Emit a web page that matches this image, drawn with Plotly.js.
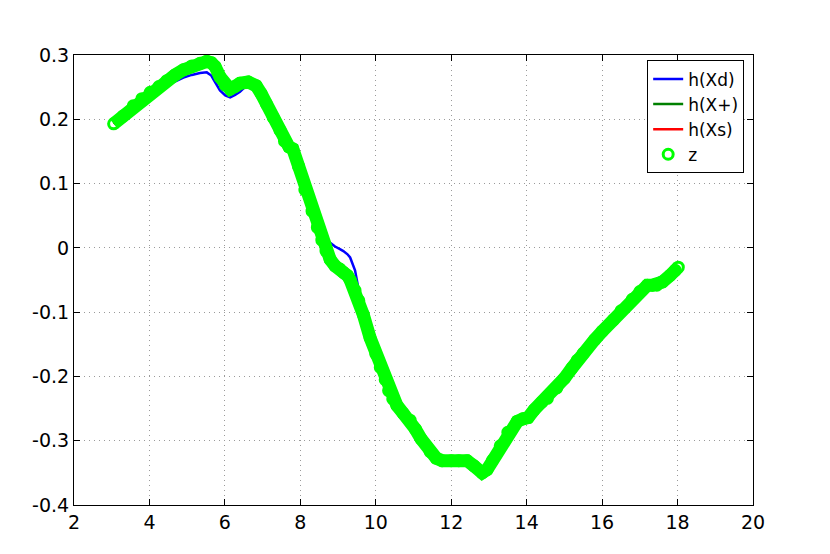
<!DOCTYPE html>
<html>
<head>
<meta charset="utf-8">
<script src="https://cdn.plot.ly/plotly-3.0.1.min.js"></script>
<style>
  html, body { margin: 0; padding: 0; background: #ffffff; }
  #plot { width: 830px; height: 554px; }
</style>
</head>
<body>
<div id="plot"></div>
<script>
// Sample positions along the track
const xs = [3.05, 3.3, 3.57, 3.8, 4.02, 4.25, 4.46, 4.68, 4.9, 5.12, 5.34, 5.52, 5.64, 5.74, 5.87,
  6.01, 6.14, 6.27, 6.40, 6.62, 6.83, 6.96, 7.10, 7.28, 7.46, 7.58, 7.70, 7.80, 7.95, 8.12,
  8.31, 8.45, 8.57, 8.68, 8.79, 8.92, 9.05, 9.14, 9.25, 9.32, 9.45, 9.55, 9.67, 9.85, 10.0,
  10.12, 10.25, 10.34, 10.45, 10.56, 10.72, 10.91, 11.05, 11.2, 11.44, 11.6, 11.76, 12.0, 12.2,
  12.42, 12.6, 12.82, 12.95, 13.1, 13.3, 13.5, 13.75, 13.9, 14.04, 14.2, 14.4, 14.55, 14.8,
  15.0, 15.2, 15.34, 15.5, 15.8, 16.0, 16.3, 16.5, 16.8, 17.0, 17.2, 17.33, 17.45, 17.6, 17.8,
  17.94, 18.02];

// Measurements z (green circles)
const z = [0.193, 0.205, 0.221, 0.232, 0.242, 0.251, 0.260, 0.269, 0.277, 0.283, 0.287, 0.290, 0.288, 0.282, 0.266,
  0.253, 0.247, 0.251, 0.256, 0.258, 0.252, 0.240, 0.224, 0.203, 0.183, 0.166, 0.157, 0.154, 0.127, 0.090,
  0.057, 0.032, 0.012, -0.005, -0.018, -0.028, -0.033, -0.038, -0.043, -0.050, -0.066, -0.082, -0.104, -0.140, -0.165,
  -0.186, -0.205, -0.222, -0.235, -0.245, -0.257, -0.268, -0.282, -0.297, -0.317, -0.327, -0.331, -0.331, -0.331,
  -0.331, -0.339, -0.350, -0.345, -0.330, -0.308, -0.287, -0.270, -0.266, -0.264, -0.252, -0.240, -0.234, -0.218,
  -0.203, -0.187, -0.175, -0.164, -0.143, -0.130, -0.112, -0.098, -0.080, -0.068, -0.058, -0.058, -0.058, -0.053, -0.043,
  -0.035, -0.030];

// h(Xd) - blue, shows where it leaves the z band
const hXd = [0.193, 0.205, 0.221, 0.232, 0.242, 0.247, 0.253, 0.259, 0.265, 0.269, 0.272, 0.273, 0.268, 0.258, 0.245,
  0.237, 0.234, 0.238, 0.243, 0.255, 0.252, 0.240, 0.224, 0.203, 0.183, 0.166, 0.157, 0.154, 0.127, 0.090,
  0.057, 0.032, 0.016, 0.015, 0.008, 0.002, -0.002, -0.005, -0.010, -0.015, -0.035, -0.065, -0.104, -0.140, -0.165,
  -0.186, -0.205, -0.222, -0.235, -0.245, -0.257, -0.268, -0.282, -0.297, -0.317, -0.327, -0.331, -0.331, -0.331,
  -0.331, -0.339, -0.350, -0.345, -0.330, -0.308, -0.287, -0.270, -0.266, -0.264, -0.252, -0.240, -0.234, -0.218,
  -0.203, -0.187, -0.175, -0.164, -0.143, -0.130, -0.112, -0.098, -0.080, -0.068, -0.058, -0.054, -0.048, -0.044, -0.040,
  -0.035, -0.030];

// h(X+) and h(Xs) sit under the z markers everywhere in the picture
const hXplus = z;
const hXs = z;

const xTicks = [2, 4, 6, 8, 10, 12, 14, 16, 18, 20];
const yTicks = [-0.4, -0.3, -0.2, -0.1, 0, 0.1, 0.2, 0.3];
const yTickText = ['-0.4', '-0.3', '-0.2', '-0.1', '0', '0.1', '0.2', '0.3'];

const data = [
  { x: xs, y: hXd, type: 'scatter', mode: 'lines', name: 'h(Xd)', line: { color: '#0000ff', width: 2.5 } },
  { x: xs, y: hXplus, type: 'scatter', mode: 'lines', name: 'h(X+)', line: { color: '#008000', width: 2.5 } },
  { x: xs, y: hXs, type: 'scatter', mode: 'lines', name: 'h(Xs)', line: { color: '#ff0000', width: 2.5 } },
  // thick band so the dense circles read as one stroke
  { x: xs, y: z, type: 'scatter', mode: 'lines', showlegend: false, hoverinfo: 'skip',
    line: { color: '#00ff00', width: 13 } },
  { x: xs, y: z, type: 'scatter', mode: 'markers', name: 'z',
    marker: { symbol: 'circle-open', size: 10, color: '#00ff00', line: { width: 3, color: '#00ff00' } } }
];

const axisStyle = {
  showline: true,
  linecolor: '#000000',
  linewidth: 1,
  mirror: 'ticks',
  ticks: 'inside',
  ticklen: 6,
  tickcolor: '#000000',
  showgrid: true,
  gridcolor: '#9a9a9a',
  griddash: '1px,4px',
  gridwidth: 1,
  zeroline: false,
  tickfont: { size: 19, color: '#000000' }
};

const layout = {
  width: 830,
  height: 554,
  margin: { l: 74, r: 77, t: 55, b: 49 },
  paper_bgcolor: '#ffffff',
  plot_bgcolor: '#ffffff',
  font: { family: '"DejaVu Sans", sans-serif', size: 19, color: '#000000' },
  xaxis: Object.assign({}, axisStyle, { range: [2, 20], tickvals: xTicks }),
  yaxis: Object.assign({}, axisStyle, { range: [-0.4, 0.3], tickvals: yTicks, ticktext: yTickText }),
  showlegend: true,
  legend: {
    x: 0.987, y: 0.988, xanchor: 'right', yanchor: 'top',
    bgcolor: '#ffffff', bordercolor: '#000000', borderwidth: 1,
    font: { size: 17 }, tracegroupgap: 0
  }
};

Plotly.newPlot('plot', data, layout, { displayModeBar: false, staticPlot: true });
</script>
</body>
</html>
